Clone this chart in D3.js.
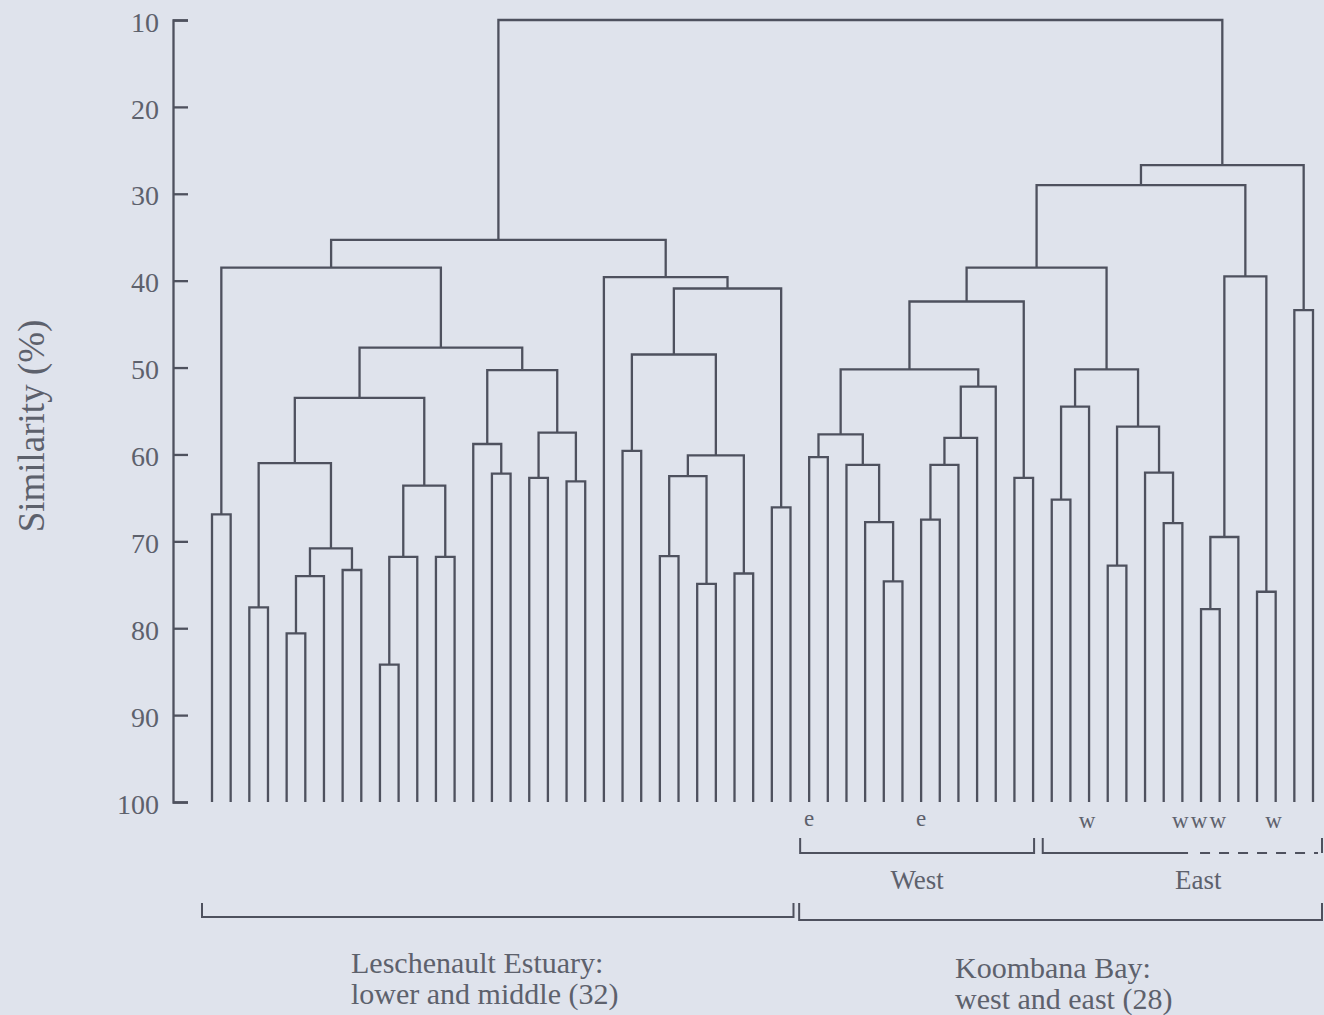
<!DOCTYPE html>
<html>
<head>
<meta charset="utf-8">
<script src="https://cdn.jsdelivr.net/npm/d3@7"></script>
<style>
  html, body { margin: 0; padding: 0; background: #dfe3ec; }
  svg { display: block; }
  text { font-family: "Liberation Serif", "DejaVu Serif", serif; fill: #5d616c; }
</style>
</head>
<body>
<svg id="chart" width="1324" height="1015"></svg>
<script>
// ---- DATA ----
// 60 sites (leaves 0..59, left to right)
const leafCount = 60;
// Agglomeration steps: [childA, childB, similarity %]; new cluster ids start at 60
const merges = [
  [0, 1, 66.9],     // 60
  [2, 3, 77.6],     // 61
  [4, 5, 80.6],     // 62
  [62, 6, 74.0],    // 63
  [7, 8, 73.3],     // 64
  [63, 64, 70.8],   // 65
  [61, 65, 61.0],   // 66
  [9, 10, 84.2],    // 67
  [67, 11, 71.8],   // 68
  [12, 13, 71.8],   // 69
  [68, 69, 63.6],   // 70
  [66, 70, 53.5],   // 71
  [15, 16, 62.2],   // 72
  [14, 72, 58.8],   // 73
  [17, 18, 62.7],   // 74
  [19, 20, 63.1],   // 75
  [74, 75, 57.5],   // 76
  [73, 76, 50.3],   // 77
  [71, 77, 47.7],   // 78
  [60, 78, 38.5],   // 79
  [22, 23, 59.6],   // 80
  [24, 25, 71.7],   // 81
  [26, 27, 74.9],   // 82
  [81, 82, 62.5],   // 83
  [28, 29, 73.7],   // 84
  [83, 84, 60.1],   // 85
  [80, 85, 48.5],   // 86
  [30, 31, 66.1],   // 87
  [86, 87, 40.9],   // 88
  [21, 88, 39.6],   // 89
  [79, 89, 35.3],   // 90
  [32, 33, 60.3],   // 91
  [36, 37, 74.6],   // 92
  [35, 92, 67.8],   // 93
  [34, 93, 61.2],   // 94
  [91, 94, 57.7],   // 95
  [38, 39, 67.5],   // 96
  [96, 40, 61.2],   // 97
  [97, 41, 58.1],   // 98
  [98, 42, 52.2],   // 99
  [95, 99, 50.2],   // 100
  [43, 44, 62.7],   // 101
  [100, 101, 42.4], // 102
  [45, 46, 65.2],   // 103
  [103, 47, 54.5],  // 104
  [48, 49, 72.8],   // 105
  [51, 52, 67.9],   // 106
  [50, 106, 62.1],  // 107
  [105, 107, 56.8], // 108
  [104, 108, 50.2], // 109
  [102, 109, 38.5], // 110
  [53, 54, 77.8],   // 111
  [111, 55, 69.5],  // 112
  [56, 57, 75.8],   // 113
  [112, 113, 39.5], // 114
  [110, 114, 29.0], // 115
  [58, 59, 43.4],   // 116
  [115, 116, 26.7], // 117
  [90, 117, 10.0]   // 118
];
const yTicks = [10, 20, 30, 40, 50, 60, 70, 80, 90, 100];
const yTitle = "Similarity (%)";
const eLeaves = [32, 38];
const wLeaves = [47, 52, 53, 54, 57];
const subGroups = [
  { name: "West", from: 32, to: 44, dashedFrom: null },
  { name: "East", from: 45, to: 59, dashedFrom: 53 }
];
const mainGroups = [
  { lines: ["Leschenault Estuary:", "lower and middle (32)"], from: 0, to: 31 },
  { lines: ["Koombana Bay:", "west and east (28)"], from: 32, to: 59 }
];

// ---- BUILD TREE ----
const nodes = [];
for (let i = 0; i < leafCount; i++) nodes.push({ id: i, sim: 100 });
merges.forEach((m, k) => {
  nodes.push({ id: leafCount + k, sim: m[2], children: [nodes[m[0]], nodes[m[1]]] });
});
const rootData = nodes[nodes.length - 1];

const svg = d3.select("#chart");
const ink = "#4e515e";

const y = d3.scaleLinear().domain([10, 100]).range([20, 802]);
const xLeaf = d3.scalePoint().domain(d3.range(leafCount)).range([212, 1313]);

const root = d3.hierarchy(rootData);
root.eachAfter(d => {
  d.px = d.children ? d3.mean(d.children, c => c.px) : xLeaf(d.data.id);
  d.py = y(d.data.sim);
});

const leafX = {};
root.leaves().forEach(l => { leafX[l.data.id] = l.px; });

// ---- DENDROGRAM ----
const g = svg.append("g");
g.selectAll("path.link")
  .data(root.descendants().filter(d => d.children))
  .join("path")
  .attr("class", "link")
  .attr("fill", "none")
  .attr("stroke", ink)
  .attr("stroke-width", 2.3)
  .attr("stroke-linejoin", "miter")
  .attr("d", d => {
    const [a, b] = d.children;
    return `M${a.px},${a.py}V${d.py}H${b.px}V${b.py}`;
  });

// ---- AXIS ----
const axis = d3.axisLeft(y)
  .tickValues(yTicks)
  .tickSizeInner(-15)
  .tickSizeOuter(-15)
  .tickPadding(14)
  .tickFormat(d3.format("d"));
const ag = svg.append("g").attr("transform", "translate(173,0)").call(axis);
ag.selectAll("path, line").attr("stroke", ink).attr("stroke-width", 2.3);
ag.selectAll("text")
  .attr("x", -14)
  .attr("dy", "0.4em")
  .style("font-family", '"Liberation Serif", serif')
  .style("font-size", "28px")
  .attr("fill", "#5d616c");

svg.append("text")
  .attr("transform", "translate(44,426) rotate(-90)")
  .attr("text-anchor", "middle")
  .style("font-size", "37px")
  .text(yTitle);

// ---- LEAF TAGS ----
svg.selectAll("text.e")
  .data(eLeaves).join("text").attr("class", "e")
  .attr("x", d => leafX[d]).attr("y", 826)
  .attr("text-anchor", "middle").style("font-size", "23px").text("e");
svg.selectAll("text.w")
  .data(wLeaves).join("text").attr("class", "w")
  .attr("x", d => leafX[d] - 2).attr("y", 828)
  .attr("text-anchor", "middle").style("font-size", "23px").text("w");

// ---- SUB GROUP BRACKETS (West / East) ----
const subPos = [
  { padL: 9, padR: 1, labelShift: 0 },
  { padL: 9, padR: 9, labelShift: 16 }
];
subGroups.forEach((sg, i) => {
  const p = subPos[i];
  const xa = leafX[sg.from] - p.padL;
  const xb = leafX[sg.to] + p.padR;
  const by = 853, top = 838;
  if (sg.dashedFrom === null) {
    svg.append("path").attr("fill", "none").attr("stroke", ink).attr("stroke-width", 2)
      .attr("d", `M${xa},${top}V${by}H${xb}V${top}`);
  } else {
    const xd = leafX[sg.dashedFrom] - 13;
    svg.append("path").attr("fill", "none").attr("stroke", ink).attr("stroke-width", 2)
      .attr("d", `M${xa},${top}V${by}H${xd}`);
    svg.append("path").attr("fill", "none").attr("stroke", ink).attr("stroke-width", 2)
      .attr("stroke-dasharray", "10,9")
      .attr("d", `M${xd + 12},${by}H${xb - 4}`);
    svg.append("path").attr("fill", "none").attr("stroke", ink).attr("stroke-width", 2)
      .attr("d", `M${xb},${top}V${by}`);
  }
  svg.append("text").attr("x", (xa + xb) / 2 + p.labelShift)
    .attr("y", 889).attr("text-anchor", "middle").style("font-size", "27px").text(sg.name);
});

// ---- MAIN GROUP BRACKETS ----
const mainPos = [
  { padL: 10, padR: 3, by: 917, tx: 351, ty: 973 },
  { padL: 10, padR: 9, by: 920, tx: 955, ty: 978 }
];
mainGroups.forEach((mg, i) => {
  const p = mainPos[i];
  const xa = leafX[mg.from] - p.padL, xb = leafX[mg.to] + p.padR;
  svg.append("path").attr("fill", "none").attr("stroke", ink).attr("stroke-width", 2)
    .attr("d", `M${xa},903V${p.by}H${xb}V903`);
  const t = svg.append("text").attr("x", p.tx).attr("y", p.ty).style("font-size", "30px");
  mg.lines.forEach((ln, j) => {
    t.append("tspan").attr("x", p.tx).attr("dy", j === 0 ? 0 : 31).text(ln);
  });
});
</script>
</body>
</html>
